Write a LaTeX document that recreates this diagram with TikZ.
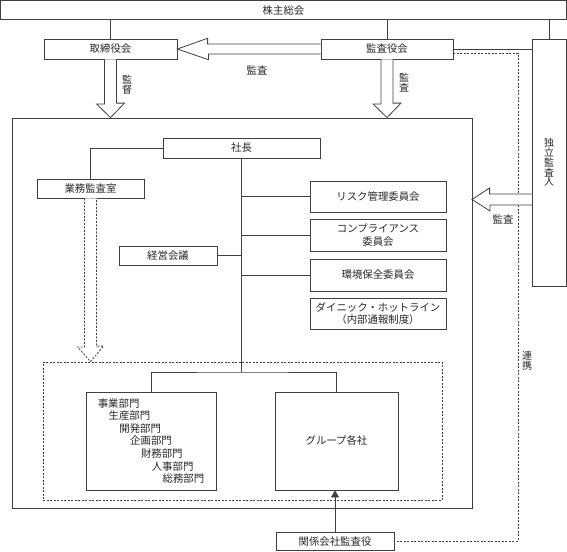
\documentclass[tikz,border=0pt]{standalone}
\usepackage{fontspec}
\newfontfamily\jpfont{Noto Sans CJK JP}
\usetikzlibrary{arrows.meta}

\tikzset{
  box/.style={draw=black!75, line width=0.8pt, inner sep=0pt, align=center},
  link/.style={draw=black!75, line width=0.8pt},
  hollow/.style={draw=black!75, line width=0.8pt, fill=white},
  dots/.style={dash pattern=on 2pt off 1.5pt},
  vlabel/.style={align=center, font=\jpfont\fontsize{10}{9.8}\selectfont},
}

\begin{document}
\begin{tikzpicture}[x=1pt, y=-1pt, font=\jpfont\fontsize{10.4}{12.6}\selectfont, text=black!85]
\useasboundingbox (0,0) rectangle (567,551);

\node[box, minimum width=565.8pt, minimum height=19pt] (Shareholders) at (283.5,10.1) {株主総会};
\node[box, minimum width=133pt, minimum height=20pt] (Board) at (110.5,49) {取締役会};
\node[box, minimum width=132pt, minimum height=20pt] (Auditors) at (387,49) {監査役会};
\node[box, minimum width=34.4pt, minimum height=247pt, font=\jpfont\fontsize{10}{9.8}\selectfont] (Independent Auditor) at (549.2,162.5) {独\\立\\監\\査\\人};

\node[box, minimum width=460pt, minimum height=390pt] (Main) at (242,313) {};
\node[box, dots, minimum width=399pt, minimum height=138pt] (Group Frame) at (242.5,431) {};

\node[box, minimum width=157pt, minimum height=20pt] (President) at (241.5,148) {社長};
\node[box, minimum width=107pt, minimum height=19pt] (Audit Office) at (90.5,188.5) {業務監査室};
\node[box, minimum width=98pt, minimum height=19pt] (Meeting) at (168,255.5) {経営会議};
\node[box, minimum width=136pt, minimum height=31pt] (Risk) at (378,196.5) {リスク管理委員会};
\node[box, minimum width=136pt, minimum height=32pt] (Compliance) at (378,235) {コンプライアンス\\委員会};
\node[box, minimum width=136pt, minimum height=32pt] (Environment) at (378,275) {環境保全委員会};
\node[box, minimum width=136pt, minimum height=31pt] (Hotline) at (378,313.5) {ダイニック・ホットライン\\（内部通報制度）};

\node[box, minimum width=130pt, minimum height=98pt, align=left] (Divisions) at (151,441) {事業部門\\
  \hspace*{10.8pt}生産部門\\
  \hspace*{21.6pt}開発部門\\
  \hspace*{32.4pt}企画部門\\
  \hspace*{43.2pt}財務部門\\
  \hspace*{54pt}人事部門\\
  \hspace*{64.8pt}総務部門};
\node[box, minimum width=123pt, minimum height=98pt] (Group) at (336.5,441) {グループ各社};
\node[box, minimum width=118pt, minimum height=18.4pt] (Affiliate) at (335,541.2) {関係会社監査役};

% labels
\node[vlabel] (Supervise Label) at (127,85) {監\\督};
\node[vlabel] (Audit Label A) at (404,83) {監\\査};
\node (Audit Label B) at (257,70) {監査};
\node (Audit Label C) at (503,219) {監査};
\node[vlabel] (Link Label) at (527,361) {連\\携};

% top level
\draw[link] (Board.north) -- (Board.north |- Shareholders.south);
\draw[link] (Auditors.north) -- (Auditors.north |- Shareholders.south);
\draw[link] (Independent Auditor.north) -- (Independent Auditor.north |- Shareholders.south);
\draw[link] (Auditors.east) -- (Auditors.east -| Independent Auditor.west);

\coordinate (Link Corner) at (518,300);
\draw[link, dots] ([yshift=-4pt]Auditors.east) -| (Link Corner) |- (Affiliate.east);

% hollow arrows
\draw[hollow] ([xshift=-6pt]Board.south) -- ++(0,44.5) -- ++(-8,0) -- (Board.south |- Main.north) -- ++(14,-14.5) -- ++(-8,0) -- ([xshift=6pt]Board.south);
\draw[hollow] ([xshift=-6pt]Auditors.south) -- ++(0,44.5) -- ++(-8,0) -- (Auditors.south |- Main.north) -- ++(14,-14.5) -- ++(-8,0) -- ([xshift=6pt]Auditors.south);
\draw[hollow] ([yshift=5pt]Auditors.west) -- ++(-113,0) -- ++(0,-5.7) -- (Board.east) -- ++(31,10.7) -- ++(0,-5.7) -- ([yshift=-5pt]Auditors.west);

\coordinate (Audit Tip) at (472,199.5);
\draw[hollow] (Independent Auditor.west |- Audit Tip) ++(0,-5.5) -- ++(-42,0) -- ++(0,-6) -- (Audit Tip) -- ++(18,11.5) -- ++(0,-6) -- ++(42,0);

\draw[hollow, dots] ([xshift=-6pt]Audit Office.south) -- ++(0,148.5) -- ++(-7,0) -- (Audit Office.south |- Group Frame.north) -- ++(13,-15.5) -- ++(-7,0) -- ([xshift=6pt]Audit Office.south);

% tree
\draw[link] (President.west) -| (Audit Office.north);
\coordinate (Branch) at (241.5,372);
\draw[link] (President.south) -- (Branch);
\draw[link] (Divisions.north) |- (Branch) -| (Group.north);
\draw[link] (Risk.west) -- (Risk.west -| President.south);
\draw[link] (Compliance.west) -- (Compliance.west -| President.south);
\draw[link] (Environment.west) -- (Environment.west -| President.south);
\draw[link] (Meeting.east) -- (Meeting.east -| President.south);
\draw[link, -{Triangle[width=8pt,length=7pt]}] (Affiliate.north) -- (Affiliate.north |- Group.south);
\end{tikzpicture}
\end{document}
